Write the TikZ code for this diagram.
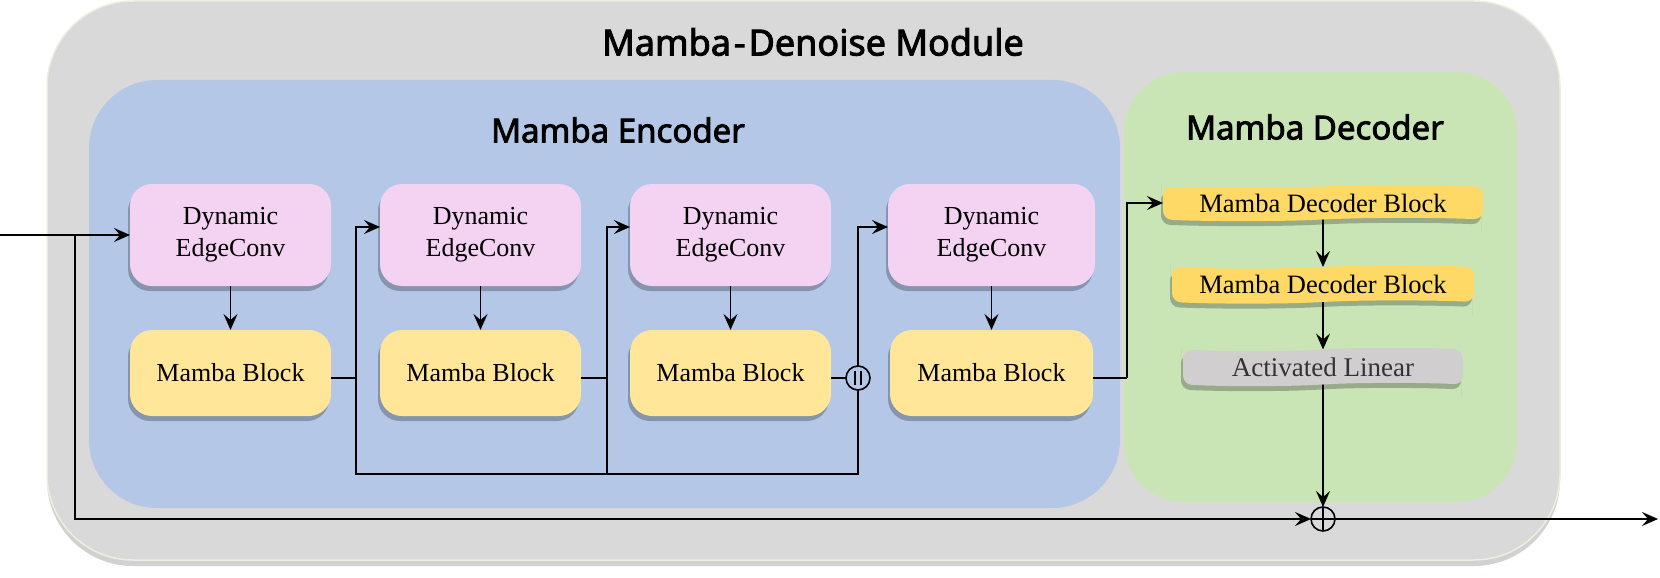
\documentclass[tikz,border=0pt]{standalone}
\usepackage{fontspec}
\setmainfont{Liberation Serif}
\newfontfamily\titlefont{Noto Sans}[FakeBold=2.5]
\usetikzlibrary{arrows.meta,shadows,shapes.symbols}
\definecolor{outergray}{HTML}{D9D9D9}
\definecolor{outerborder}{HTML}{EEEEE0}
\definecolor{encblue}{HTML}{B4C7E7}
\definecolor{decgreen}{HTML}{C9E5B5}
\definecolor{edgepink}{HTML}{F3D2F2}
\definecolor{mbyellow}{HTML}{FFE699}
\definecolor{dbyellow}{HTML}{FFD966}
\definecolor{algray}{HTML}{D0CECE}
\tikzset{
  boxshadow/.style={drop shadow={shadow xshift=-2pt,shadow yshift=-5pt,opacity=0.25,fill=black}},
  edgebox/.style={rectangle,rounded corners=22pt,fill=edgepink,minimum height=102pt,
    inner sep=0pt,outer sep=0pt,align=center,font=\fontsize{26}{32}\selectfont,boxshadow},
  mbbox/.style={rectangle,rounded corners=22pt,fill=mbyellow,minimum width=201pt,minimum height=86pt,
    inner sep=0pt,outer sep=0pt,font=\fontsize{26}{30}\selectfont,boxshadow},
  decbox/.style={tape,tape bend top=in and out,tape bend bottom=in and out,tape bend height=3pt,
    rounded corners=9pt,inner sep=0pt,outer sep=0pt,font=\fontsize{26.5}{28}\selectfont,boxshadow},
  ln/.style={line width=1.7pt,draw=black},
  arr/.style={ln,-{Stealth[length=16pt,width=14pt,inset=6pt]}},
  opcirc/.style={circle,draw=black,line width=1.6pt,minimum size=24pt,inner sep=0pt,outer sep=0pt},
  titletext/.style={font=\titlefont\fontsize{33}{36}\selectfont}
}
\begin{document}
\begin{tikzpicture}[x=1pt,y=-1pt]
\useasboundingbox (0,0) rectangle (1660,578);
% containers
\fill[outergray,draw=outerborder,line width=1.5pt,rounded corners=86pt,
  drop shadow={shadow xshift=0pt,shadow yshift=-6pt,opacity=0.18,fill=black}]
  (47,1) rectangle (1560,560);
\fill[encblue,rounded corners=68pt] (89,80) rectangle (1120,508);
\fill[decgreen,rounded corners=60pt] (1124,72) rectangle (1517,502);
% titles
\node[titletext,font=\titlefont\fontsize{36}{40}\selectfont] (tmain) at (813,42) {Mamba\kern3pt-\kern3pt Denoise Module};
\node[titletext] (tenc) at (618,130) {Mamba Encoder};
\node[titletext] (tdec) at (1315,127) {Mamba Decoder};
% encoder nodes
\node[edgebox,minimum width=201pt] (dec1) at (230.5,235) {Dynamic\\EdgeConv};
\node[edgebox,minimum width=201pt] (dec2) at (480.5,235) {Dynamic\\EdgeConv};
\node[edgebox,minimum width=201pt] (dec3) at (730.5,235) {Dynamic\\EdgeConv};
\node[edgebox,minimum width=207pt] (dec4) at (991.5,235) {Dynamic\\EdgeConv};
\node[mbbox] (mb1) at (230.5,373) {Mamba Block};
\node[mbbox] (mb2) at (480.5,373) {Mamba Block};
\node[mbbox] (mb3) at (730.5,373) {Mamba Block};
\node[mbbox,minimum width=203pt] (mb4) at (991.5,373) {Mamba Block};
\node[opcirc] (cat) at (858,378) {};
\draw[line width=1.4pt] ([xshift=-3pt,yshift=7pt]cat.center) -- ([xshift=-3pt,yshift=-7pt]cat.center);
\draw[line width=1.4pt] ([xshift=3pt,yshift=7pt]cat.center) -- ([xshift=3pt,yshift=-7pt]cat.center);
% decoder nodes
\node[decbox,fill=dbyellow,minimum width=320pt,minimum height=36pt] (db1) at (1323,203) {Mamba Decoder Block};
\node[decbox,fill=dbyellow,minimum width=302pt,minimum height=38pt] (db2) at (1323,284.5) {Mamba Decoder Block};
\node[decbox,fill=algray,minimum width=280pt,minimum height=38pt,text=black!80,font=\fontsize{27}{28}\selectfont] (al) at (1323,367) {Activated Linear};
\node[opcirc] (plus) at (1323,519) {};
\draw[line width=1.4pt] (plus.north) -- (plus.south);
\draw[line width=1.4pt] (plus.west) -- (plus.east);
% coordinates
\coordinate (in) at (0,235);
\coordinate (j0) at (75,235);
\coordinate (b1) at (356,378);
\coordinate (b2) at (607,378);
\coordinate (bus1) at (356,474);
\coordinate (bus2) at (607,474);
\coordinate (b4) at (1127,378);
\coordinate (out) at (1658,519);
% connectors
\draw[arr] (in) -- (dec1.west);
\draw[arr] (j0) |- (plus.west);
\foreach \i in {1,2,3,4} {\draw[arr] (dec\i.south) -- (dec\i.south |- mb\i.north);}
\draw[ln] ([yshift=-5pt]mb1.east) -- (b1);
\draw[arr] (b1) |- ([yshift=8pt]dec2.west);
\draw[ln] ([yshift=-5pt]mb2.east) -- (b2);
\draw[arr] (b2) |- ([yshift=8pt]dec3.west);
\draw[ln] ([yshift=-5pt]mb3.east) -- (cat.west);
\draw[arr] (cat.north) |- ([yshift=8pt]dec4.west);
\draw[ln] (b1) -- (bus1) -| (cat.south);
\draw[ln] (b2) -- (bus2);
\draw[ln] ([yshift=-5pt]mb4.east) -- (b4);
\draw[arr] (b4) |- (db1.west);
\draw[arr] (db1) -- (db2);
\draw[arr] (db2) -- (al);
\draw[arr] (al) -- (plus);
\draw[arr] (plus.east) -- (out);
\end{tikzpicture}
\end{document}
